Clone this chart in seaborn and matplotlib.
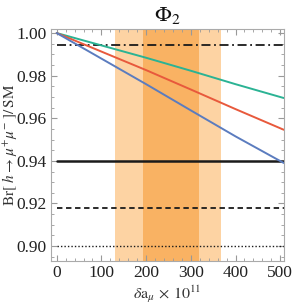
import numpy as np
import pandas as pd
import matplotlib
matplotlib.use("Agg")
import matplotlib.pyplot as plt
import seaborn as sns
from matplotlib.ticker import MultipleLocator

# data
da = [0, 100, 200, 300, 400, 508]
green = [1.000, 0.9942, 0.9884, 0.9823, 0.9760, 0.9695]
red = [1.000, 0.9913, 0.9826, 0.9735, 0.9643, 0.9546]
blue = [1.000, 0.9880, 0.9760, 0.9637, 0.9515, 0.9390]
series_names = ["green", "red", "blue"]
series_colors = ["#2bb394", "#e8593c", "#5b7cbf"]
hlines = [0.9942, 0.940, 0.918, 0.900]
hstyles = [(0, (5, 2, 1, 2)), "-", (0, (3, 2)), (0, (1, 1.5))]
hwidths = [1.3, 1.8, 1.3, 1.0]
band_outer = (131, 368)
band_inner = (192, 318)
xticks = [0, 100, 200, 300, 400, 500]
yticks = [0.90, 0.92, 0.94, 0.96, 0.98, 1.00]

sns.set_theme(style="white")
plt.rcParams['font.family'] = ['Liberation Serif', 'DejaVu Serif']
plt.rcParams['mathtext.fontset'] = 'stix'

df = pd.DataFrame({"da": da * 3,
                   "val": green + red + blue,
                   "s": sum([[n] * len(da) for n in series_names], [])})

fig = plt.figure(figsize=(2.92, 3.05), dpi=100)
ax = fig.add_axes([51 / 292, 1 - 261 / 305, 233 / 292, 232 / 305])

ax.axvspan(*band_outer, color="#fdd3a3", lw=0, zorder=0)
ax.axvspan(*band_inner, color="#f9b263", lw=0, zorder=0.5)

for y, ls, lw in zip(hlines, hstyles, hwidths):
    ax.axhline(y, xmin=(0 - (-12.8)) / (508.5 + 12.8), color="#1a1a1a", ls=ls, lw=lw, zorder=2)

sns.lineplot(data=df, x="da", y="val", hue="s", palette=series_colors,
             hue_order=series_names, lw=1.4, legend=False, ax=ax, zorder=3)

ax.set_xlim(-12.8, 508.5)
ax.set_ylim(0.893, 1.0019)
ax.set_xticks(xticks)
ax.set_xticklabels([str(t) for t in xticks])
ax.set_yticks(yticks)
ax.set_yticklabels([f"{t:.2f}" for t in yticks])
ax.xaxis.set_minor_locator(MultipleLocator(20))
ax.yaxis.set_minor_locator(MultipleLocator(0.005))
ax.tick_params(which="both", direction="in", top=True, right=True,
               bottom=True, left=True, color="#999999", labelsize=12.5,
               labelcolor="#222222", pad=3)
ax.tick_params(which="major", length=4, width=0.8)
ax.tick_params(which="minor", length=2, width=0.6)
for sp in ax.spines.values():
    sp.set_color("#aaaaaa")
    sp.set_linewidth(0.8)

ax.set_xlabel(r"$\delta\mathrm{a}_{\mu}\,\times\,10^{11}$", fontsize=11.5, color="#333333")
ax.xaxis.set_label_coords(0.5, -23 / 232)
ax.set_ylabel(r"$\mathrm{Br}[\ h\rightarrow\mu^{+}\mu^{-}\ ]/\,\mathrm{SM}$", fontsize=11, color="#333333")
ax.yaxis.set_label_coords(-32 / 233, 0.5)
ax.set_title(r"$\Phi_2$", fontsize=16, color="#111111", pad=6)

fig.savefig("out.png", dpi=100)
